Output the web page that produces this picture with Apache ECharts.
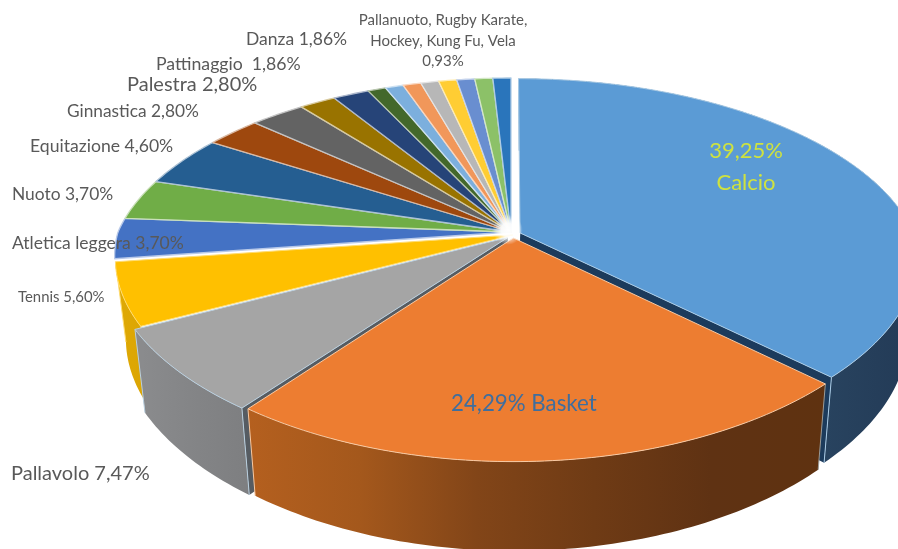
<!DOCTYPE html>
<html>
<head>
<meta charset="utf-8">
<style>html,body{margin:0;padding:0;background:#fff}#chart{width:898px;height:549px}</style>
<script src="https://cdn.jsdelivr.net/npm/echarts@6/dist/echarts.min.js"></script>
</head>
<body>
<div id="chart"></div>
<script>
// Sports practised: share of each discipline, in per cent, clockwise from twelve o'clock
const categories = ['Calcio','Basket','Pallavolo','Tennis','Atletica leggera','Nuoto','Equitazione','Ginnastica','Palestra','Pattinaggio','Danza','Pallanuoto','Rugby','Karate','Hockey','Kung Fu','Vela','Altro A','Altro B'];
const shares = [39.25,24.29,7.47,5.60,3.70,3.70,4.60,2.80,2.80,1.86,1.86,0.93,0.93,0.93,0.93,0.93,0.93,0.93,0.93];
const palette = ['#5b9bd5','#ed7d31','#a5a5a5','#ffc000','#4472c4','#70ad47','#255e91','#9e480e','#636363','#997300','#264478','#43682b','#7cafdd','#f1975a','#b7b7b7','#ffcd33','#698ed0','#8cc168','#2a75bb'];
// Offset of the slices pulled out of the disc (sideways, depthwise)
const explode = {Calcio:[0.023,-0.005], Basket:[0.006,-0.033], Pallavolo:[-0.008,-0.03], Tennis:[0.004,-0.016]};

// Tilted-disc projection: a unit disc seen in perspective, with a shallow extrusion below it
const view = {x0:511, y0:232, a:393, b:181.4, kBack:0.2, kFront:0.13, ky:0.178, vx:536, s:0.975};
const project = (u,v) => [
  view.x0 + view.a*u/(1+(v>0?view.kBack:view.kFront)*v),
  view.y0 - view.b*v/(1+view.ky*v)
];
const drop = p => [view.vx + (p[0]-view.vx)*view.s, p[1] + 68.5 + 0.045*p[1]];
const tint = (hex,t) => {
  const n = parseInt(hex.slice(1),16);
  const c = [n>>16, (n>>8)&255, n&255].map(x => Math.round(x+(255-x)*t));
  return `rgb(${c.join(',')})`;
};
const ramp = (x1,x2,stops) => ({type:'linear',x:x1,y:0,x2:x2,y2:0,global:true,
  colorStops:stops.map((c,i)=>({offset:i/(stops.length-1),color:c}))});

const total = shares.reduce((a,b)=>a+b,0);
const startShare = [];
shares.reduce((acc,v,i)=>{startShare[i]=acc;return acc+v;},0);

// Side walls of the slices that face the viewer, with their depth order.
// cutEnd names the radial face left exposed where a neighbour is pulled away.
const walls = {
  Calcio:{fill:()=>ramp(825,898,['#28435f','#243c58']),cut:'#1c3b5c',cutEnd:'last',edge:'#a9cbe6',z:2},
  Basket:{fill:()=>ramp(243,828,['#b5601f','#a4581c','#824518','#6f3b15','#5f3213','#5f3210']),edge:'#f8c9a2',firstEdge:'#9a9a96',z:5},
  Pallavolo:{fill:()=>ramp(134,245,['#8b8c8e','#848587','#7e7f81']),cut:'#565c62',cutEnd:'first',edge:'#b9cfdf',z:4},
  Tennis:{fill:()=>ramp(118,145,['#dfa904','#dba504']),edge:'#ffdc70',z:1}
};

function renderSlice(params, api) {
  const i = params.dataIndex;
  const name = categories[i];
  const from = startShare[i]/total*2*Math.PI;
  const span = api.value(0)/total*2*Math.PI;
  const [ou,ov] = explode[name]||[0,0];
  const steps = Math.max(2,Math.ceil(span/(Math.PI/180)));
  const rim = [];
  for (let n=0;n<=steps;n++){
    const t = from+span*n/steps;
    rim.push(project(ou+Math.sin(t),ov+Math.cos(t)));
  }
  const apex = project(ou,ov);
  const color = palette[i];
  const children = [];
  const wall = walls[name];
  if (wall) {
    const first = rim[0], last = rim[rim.length-1];
    if (wall.cut) {
      const end = wall.cutEnd==='first' ? first : last;
      children.push({type:'polygon',z2:wall.z-1,
        shape:{points:[apex,end,drop(end),drop(apex)]},
        style:{fill:wall.cut}});
    }
    children.push({type:'polygon',z2:wall.z,
      shape:{points:rim.concat(rim.map(drop).reverse())},
      style:{fill:wall.fill()}});
    children.push({type:'polyline',z2:wall.z,
      shape:{points:[first,drop(first)]},
      style:{fill:'none',stroke:wall.firstEdge||wall.edge,lineWidth:1}});
    children.push({type:'polyline',z2:wall.z,
      shape:{points:[last,drop(last)]},
      style:{fill:'none',stroke:wall.edge,lineWidth:1}});
  }
  children.push({type:'polygon',z2:10,
    shape:{points:[apex].concat(rim)},
    style:{fill:color,stroke:wall?wall.edge:tint(color,0.62),lineWidth:wall?1:1.3,lineJoin:'round'}});
  return {type:'group',children};
}

// Percent text follows the Italian decimal comma
const pct = n => shares[categories.indexOf(n)].toFixed(2).replace('.',',')+'%';
const label = (text,x,y,size,opts={}) => ({
  type:'text',x,y,z:100,silent:true,
  style:Object.assign({text,fill:'#595959',font:`${size}px Lato, "Open Sans", sans-serif`,textAlign:'left',textVerticalAlign:'middle',lineHeight:size*1.5},opts)
});
const labels = [
  label(`Pallanuoto, Rugby Karate,\nHockey, Kung Fu, Vela\n${pct('Vela')}`,443,41,15,{textAlign:'center',align:'center',lineHeight:20.5}),
  label(`Danza ${pct('Danza')}`,246,39,17.5),
  label(`Pattinaggio  ${pct('Pattinaggio')}`,156,64,17.7),
  label(`Palestra ${pct('Palestra')}`,127,85,20),
  label(`Ginnastica ${pct('Ginnastica')}`,67,111,17.3),
  label(`Equitazione ${pct('Equitazione')}`,30,146,17.6),
  label(`Nuoto ${pct('Nuoto')}`,12,194,17.4),
  label(`Atletica leggera ${pct('Atletica leggera')}`,12,243,17.5),
  label(`Tennis ${pct('Tennis')}`,18,297,14.9),
  label(`Pallavolo ${pct('Pallavolo')}`,11,474,20),
  label(`${pct('Calcio')}\nCalcio`,746,167,22,{fill:'#cfe23f',textAlign:'center',align:'center',lineHeight:32}),
  label(`${pct('Basket')} Basket`,451,404,22.3,{fill:'#3f6e9e'})
];

// Soft white glow where the slice borders meet
const hub = project(-0.008,0.012);
const glow = {
  type:'circle',z:50,silent:true,x:hub[0],y:hub[1],shape:{r:15},
  style:{fill:{type:'radial',x:0.5,y:0.5,r:0.5,colorStops:[
    {offset:0,color:'rgba(255,255,255,1)'},{offset:0.45,color:'rgba(255,255,255,0.9)'},{offset:1,color:'rgba(255,255,255,0)'}]}}
};

const chart = echarts.init(document.getElementById('chart'),null,{renderer:'canvas'});
chart.setOption({
  animation:false,
  backgroundColor:'#ffffff',
  graphic:{elements:[glow].concat(labels)},
  series:[{
    type:'custom',
    coordinateSystem:'none',
    silent:true,
    renderItem:renderSlice,
    data:categories.map((name,i)=>({name,value:[shares[i]]}))
  }]
});
</script>
</body>
</html>
